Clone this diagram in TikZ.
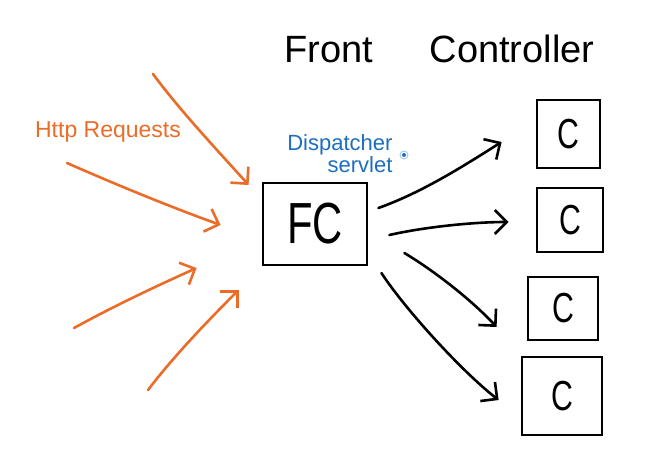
\documentclass[tikz,border=0pt]{standalone}
\usepackage{fontspec}
\setmainfont{Liberation Sans}
\newfontfamily\narrowhand[FakeStretch=0.72]{Liberation Sans}
\usetikzlibrary{arrows.meta,calc}
\definecolor{handorange}{RGB}{234,108,40}
\definecolor{handblue}{RGB}{28,110,190}
\definecolor{ringblue}{RGB}{170,200,235}
\begin{document}
\begin{tikzpicture}[x=1pt,y=-1pt,
  box/.style={draw=black,line width=2.8pt,inner sep=0pt,
              font=\narrowhand\fontsize{42}{42}\selectfont},
  blk/.style={draw=black,line width=2.6pt,line cap=round,
              -{Straight Barb[length=12pt,width=24pt]}},
  org/.style={draw=handorange,line width=2.6pt,line cap=round,
              -{Straight Barb[length=12pt,width=24pt]}},
  title/.style={font=\fontsize{38}{38}\selectfont,anchor=base,text=black}]
\useasboundingbox (0,0) rectangle (666,457);

% titles
\node[title] (front) at (329,63) {Front};
\node[title] (ctrl) at (512,63) {Controller};

% front controller
\node[box,minimum width=104pt,minimum height=82pt,
      font=\narrowhand\fontsize{58}{58}\selectfont] (fc) at (315,224) {FC};

% dispatcher servlet label
\node[text=handblue,font=\fontsize{22}{22}\selectfont,align=right,anchor=east]
  (ds) at (396,154) {Dispatcher\\servlet};
\node[circle,draw=ringblue,line width=1pt,minimum size=8pt,inner sep=0pt] (dot) at (404,155) {};
\fill[handblue] (dot.center) circle (2pt);

% controllers
\node[box,minimum width=63pt,minimum height=68pt] (c1) at (568.5,134) {C};
\node[box,minimum width=66pt,minimum height=64pt] (c2) at (570,220) {C};
\node[box,minimum width=70pt,minimum height=63pt] (c3) at (563,308.5) {C};
\node[box,minimum width=80pt,minimum height=78pt] (c4) at (562,396) {C};

% http requests label
\node[text=handorange,font=\fontsize{23}{23}\selectfont] (http) at (108,132) {Http Requests};

% orange incoming arrows
\coordinate (o1s) at (153,74);
\coordinate (o2s) at (67,163);
\coordinate (o3s) at (74,328);
\coordinate (o4s) at (148,390);
\draw[org] (o1s) .. controls +(28,38) and +(-25,-28) .. ([shift={(-13,-39)}]fc.west);
\draw[org] (o2s) .. controls +(50,22) and +(-50,-18) .. ([shift={(-41,1)}]fc.west);
\draw[org] (o3s) .. controls +(40,-22) and +(-40,18) .. ([shift={(-65,44)}]fc.west);
\draw[org] (o4s) .. controls +(25,-33) and +(-30,30) .. ([shift={(-23,66)}]fc.west);

% black outgoing arrows
\draw[blk] ([shift={(10,-16)}]fc.east) .. controls +(45,-16) and +(-35,22) .. ([shift={(-34,8)}]c1.west);
\draw[blk] ([shift={(21,11)}]fc.east) .. controls +(35,-8) and +(-35,0) .. ([shift={(-27,2)}]c2.west);
\draw[blk] ([shift={(36,29)}]fc.east) .. controls +(30,18) and +(-25,-27) .. ([shift={(-30,18.5)}]c3.west);
\draw[blk] ([shift={(13,49)}]fc.east) .. controls +(25,38) and +(-35,-27) .. ([shift={(-22,4)}]c4.west);
\end{tikzpicture}
\end{document}
